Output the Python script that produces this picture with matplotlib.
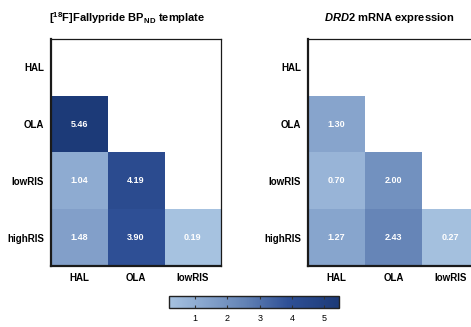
import numpy as np
import matplotlib
matplotlib.use('Agg')
import matplotlib.pyplot as plt
from matplotlib.colors import LinearSegmentedColormap, Normalize

plt.rcParams['font.family'] = ['Liberation Sans', 'DejaVu Sans']
plt.rcParams['mathtext.fontset'] = 'custom'
plt.rcParams['mathtext.rm'] = 'Liberation Sans:bold'
plt.rcParams['mathtext.bf'] = 'Liberation Sans:bold'
plt.rcParams['mathtext.it'] = 'Liberation Sans:bold:italic'

# Group labels
row_labels = ['HAL', 'OLA', 'lowRIS', 'highRIS']
col_labels = ['HAL', 'OLA', 'lowRIS']

# Lower-triangle values (rows: OLA, lowRIS, highRIS)
fallypride_vals = [[5.46], [1.04, 4.19], [1.48, 3.90, 0.19]]
drd2_vals = [[1.30], [0.70, 2.00], [1.27, 2.43, 0.27]]

titles = [r'[$^{\mathbf{18}}$F]Fallypride BP$_{\mathbf{ND}}$ template',
          r'$\mathit{DRD2}$ mRNA expression']
cbar_ticks = [1, 2, 3, 4, 5]


def to_matrix(vals):
    m = np.full((len(row_labels), len(col_labels)), np.nan)
    for i, row in enumerate(vals):
        for j, v in enumerate(row):
            m[i + 1, j] = v
    return m


cmap = LinearSegmentedColormap.from_list(
    'blues', [(0.0, '#a6c2e0'), (0.25, '#819fc9'), (0.45, '#6282b5'),
              (0.7, '#2f5096'), (1.0, '#1c3a78')])
cmap.set_bad('white')
all_vals = [v for r in fallypride_vals + drd2_vals for v in r]
norm = Normalize(vmin=min(all_vals), vmax=max(all_vals))

fig = plt.figure(figsize=(4.71, 3.27), dpi=100)
ax_pos = [[0.108, 0.1865, 0.361, 0.694], [0.654, 0.1865, 0.363, 0.694]]
title_x = [0.27, 0.826]

for k, vals in enumerate([fallypride_vals, drd2_vals]):
    ax = fig.add_axes(ax_pos[k])
    m = to_matrix(vals)
    im = ax.imshow(np.ma.masked_invalid(m), cmap=cmap, norm=norm, aspect='auto',
                   interpolation='nearest')
    for i in range(m.shape[0]):
        for j in range(m.shape[1]):
            if not np.isnan(m[i, j]):
                ax.text(j, i, f'{m[i, j]:.2f}', ha='center', va='center',
                        color='white', fontsize=6.5, fontweight='bold')
    ax.set_xticks(range(len(col_labels)))
    ax.set_xticklabels(col_labels, fontsize=7, fontweight='bold')
    ax.set_yticks(range(len(row_labels)))
    ax.set_yticklabels(row_labels, fontsize=7, fontweight='bold')
    ax.tick_params(length=0, pad=5)
    for side in ['left', 'bottom']:
        ax.spines[side].set_linewidth(1.6)
    for side in ['top', 'right']:
        ax.spines[side].set_linewidth(0.9)
    for s in ax.spines.values():
        s.set_color('#1a1a1a')
    fig.text(title_x[k], 0.945, titles[k], ha='center', va='center', fontsize=8,
             fontweight='bold')

cax = fig.add_axes([0.359, 0.058, 0.361, 0.037])
cb = fig.colorbar(im, cax=cax, orientation='horizontal', ticks=cbar_ticks)
cb.ax.tick_params(direction='in', length=2.5, width=0.8, labelsize=6.5, pad=4,
                  color='#333333', top=True)
cb.outline.set_linewidth(1.0)
cb.outline.set_edgecolor('#222222')

fig.savefig('out.png', dpi=100)
